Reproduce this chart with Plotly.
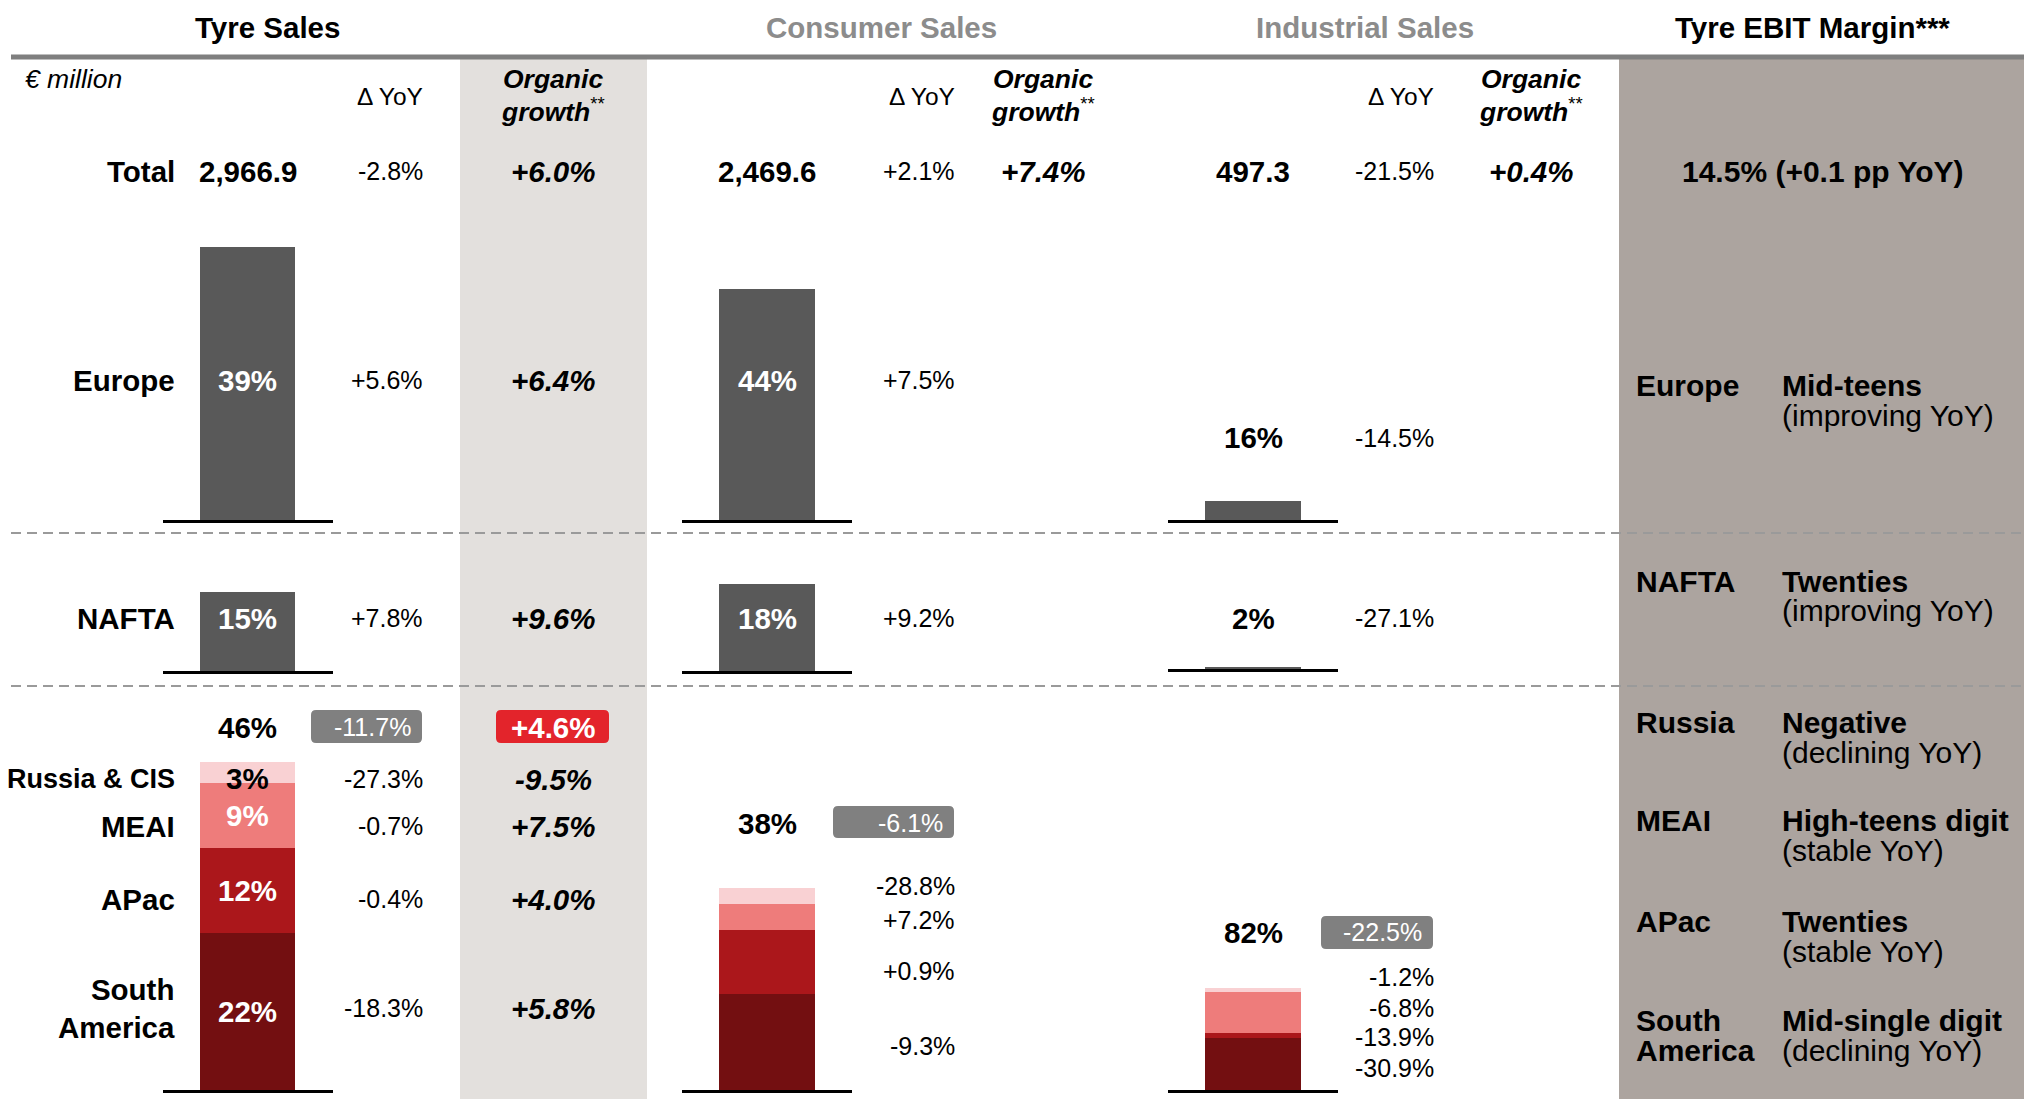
import plotly.graph_objects as go

OFF = 8                      # page body margin of the browser
W, H = 2032 - OFF, 1099 - OFF
FONT = "Arial, 'Liberation Sans', Helvetica, sans-serif"

# ---------------- data ----------------
panels = ["Tyre Sales", "Consumer Sales", "Industrial Sales"]
panel_totals = ["2,966.9", "2,469.6", "497.3"]
panel_total_yoy = ["-2.8%", "+2.1%", "-21.5%"]
panel_total_organic = ["+6.0%", "+7.4%", "+0.4%"]

main_regions = ["Europe", "NAFTA"]
tyre_main_share = [39, 15]
consumer_main_share = [44, 18]
industrial_main_share = [16, 2]
tyre_main_yoy = ["+5.6%", "+7.8%"]
tyre_main_organic = ["+6.4%", "+9.6%"]
consumer_main_yoy = ["+7.5%", "+9.2%"]
industrial_main_yoy = ["-14.5%", "-27.1%"]

rest_regions = ["Russia & CIS", "MEAI", "APac", "South<br>America"]   # top -> bottom
tyre_rest_share = [3, 9, 12, 22]
consumer_rest_share = [3, 5, 12, 18]
industrial_rest_share = [3, 33, 4, 42]
rest_totals = [46, 38, 82]
rest_total_yoy = ["-11.7%", "-6.1%", "-22.5%"]
tyre_rest_total_organic = "+4.6%"
tyre_rest_yoy = ["-27.3%", "-0.7%", "-0.4%", "-18.3%"]
tyre_rest_organic = ["-9.5%", "+7.5%", "+4.0%", "+5.8%"]
consumer_rest_yoy = ["-28.8%", "+7.2%", "+0.9%", "-9.3%"]
industrial_rest_yoy = ["-1.2%", "-6.8%", "-13.9%", "-30.9%"]

ebit_total = "14.5% (+0.1 pp YoY)"
ebit_regions = ["Europe", "NAFTA", "Russia", "MEAI", "APac", "South<br>America"]
ebit_level = ["Mid-teens", "Twenties", "Negative", "High-teens digit", "Twenties", "Mid-single digit"]
ebit_trend = ["(improving YoY)", "(improving YoY)", "(declining YoY)", "(stable YoY)",
              "(stable YoY)", "(declining YoY)"]

# ---------------- styling / layout constants ----------------
BAR_GREY = "#595959"
SEG_COLORS = ["#f9d1d3", "#ee7c7b", "#ab171b", "#730f11"]  # Russia, MEAI, APac, SA
BOX_GREY = "#808080"
BOX_RED = "#e3242b"
ORG_BG = "#e3e0dd"
EBIT_BG = "#aca49f"
HEAD_GREY = "#8c8c8c"
BIG = 29.5
VAL = 25

bar_cx = [247.5, 767, 1253]       # px centres of bars (screen px)
half_w = 85
row_base = [[520, 671, 1090], [520, 671, 1090], [520, 669, 1090]]
row_top = [200, 560, 740]
px_per_pct = [[6.99, 5.27, 7.13], [5.25, 4.83, 5.32], [1.19, 1.25, 1.24]]
yoy_right = [422, 954, 1433]
org_cx = [553, 1043, 1531]
LABEL_RIGHT = 174
PAD = 3


def fx(x):
    return (x - OFF) / W


def fy(y):
    return 1 - (y - OFF) / H


fig = go.Figure()
layout = dict(
    width=W, height=H, margin=dict(l=0, r=0, t=0, b=0),
    paper_bgcolor="white", plot_bgcolor="rgba(0,0,0,0)",
    showlegend=False, barmode="stack", font=dict(family=FONT, color="black"),
)

main_shares = [tyre_main_share, consumer_main_share, industrial_main_share]
rest_shares = [tyre_rest_share, consumer_rest_share, industrial_rest_share]
annotations = []
row_y = [380, 618]


def ann(x, y, text, size=BIG, color="black", xanchor="center", align="center"):
    if xanchor == "right":
        x += PAD
    elif xanchor == "left":
        x -= PAD
    annotations.append(dict(x=fx(x), y=fy(y), xref="paper", yref="paper", text=text,
                            showarrow=False, xanchor=xanchor, yanchor="middle", align=align,
                            font=dict(size=size, color=color)))


for r in range(3):
    for p in range(3):
        n = r * 3 + p + 1
        xs = "x" if n == 1 else f"x{n}"
        ys = "y" if n == 1 else f"y{n}"
        base = row_base[p][r]
        top = row_top[r]
        layout["xaxis" if n == 1 else f"xaxis{n}"] = dict(
            domain=[fx(bar_cx[p] - half_w), fx(bar_cx[p] + half_w)], range=[-0.5, 0.5],
            anchor=ys, showline=True, linecolor="black", linewidth=3, showgrid=False,
            zeroline=False, showticklabels=False, ticks="", fixedrange=True)
        layout["yaxis" if n == 1 else f"yaxis{n}"] = dict(
            domain=[fy(base), fy(top)], range=[0, (base - top) / px_per_pct[p][r]],
            anchor=xs, visible=False, showgrid=False, zeroline=False, fixedrange=True)
        if r < 2:
            v = main_shares[p][r]
            fig.add_trace(go.Bar(x=[0], y=[v], width=0.56, marker=dict(color=BAR_GREY, line=dict(width=0)),
                                 xaxis=xs, yaxis=ys, hoverinfo="skip"))
            if p < 2:
                ann(bar_cx[p], row_y[r], f"<b>{v}%</b>", BIG, "white")
        else:
            vals = rest_shares[p]
            cum = 0
            for k in range(3, -1, -1):
                fig.add_trace(go.Bar(x=[0], y=[vals[k]], width=0.56,
                                     marker=dict(color=SEG_COLORS[k], line=dict(width=0)),
                                     xaxis=xs, yaxis=ys, hoverinfo="skip"))
                if p == 0:
                    annotations.append(dict(x=0, y=cum + vals[k] / 2, xref=xs, yref=ys,
                                            text=f"<b>{vals[k]}%</b>", showarrow=False,
                                            yshift=-6 if k == 0 else 0,
                                            font=dict(size=BIG, color="black" if k == 0 else "white")))
                cum += vals[k]


# headers
ann(267, 27, f"<b>{panels[0]}</b>", BIG)
ann(881, 27, f"<b>{panels[1]}</b>", BIG, HEAD_GREY)
ann(1365, 27, f"<b>{panels[2]}</b>", BIG, HEAD_GREY)
ann(1812, 27, "<b>Tyre EBIT Margin***</b>", BIG)

ann(26, 79, "<i>€ million</i>", 26.5, xanchor="left")
for p in range(3):
    ann(yoy_right[p], 96, "Δ YoY", 24.5, xanchor="right")
    ann(org_cx[p], 79, "<b><i>Organic</i></b>", 26.5)
    ann(org_cx[p], 110, "<b><i>growth</i></b><sup>**</sup>", 26.5)

# total row
ann(LABEL_RIGHT, 171, "<b>Total</b>", BIG, xanchor="right")
for p in range(3):
    ann(bar_cx[p], 171, f"<b>{panel_totals[p]}</b>", BIG)
    ann(yoy_right[p], 171, panel_total_yoy[p], VAL, xanchor="right")
    ann(org_cx[p], 171, f"<b><i>{panel_total_organic[p]}</i></b>", BIG)
ann(1823, 171, f"<b>{ebit_total}</b>", 30)

# Europe / NAFTA rows
for r in range(2):
    ann(LABEL_RIGHT, row_y[r], f"<b>{main_regions[r]}</b>", BIG, xanchor="right")
    ann(yoy_right[0], row_y[r], tyre_main_yoy[r], VAL, xanchor="right")
    ann(org_cx[0], row_y[r], f"<b><i>{tyre_main_organic[r]}</i></b>", BIG)
    ann(yoy_right[1], row_y[r], consumer_main_yoy[r], VAL, xanchor="right")
ind_y = [438, 618]
for r in range(2):
    ann(bar_cx[2], ind_y[r], f"<b>{industrial_main_share[r]}%</b>", BIG)
    ann(yoy_right[2], ind_y[r], industrial_main_yoy[r], VAL, xanchor="right")

# rest row
rest_label_y = [779, 826, 899, 1008]
for k in range(4):
    size = 27 if k == 0 else BIG
    ann(LABEL_RIGHT, rest_label_y[k], f"<b>{rest_regions[k]}</b>", size, xanchor="right", align="right")
    ann(yoy_right[0], rest_label_y[k], tyre_rest_yoy[k], VAL, xanchor="right")
    ann(org_cx[0], rest_label_y[k], f"<b><i>{tyre_rest_organic[k]}</i></b>", BIG)
cons_y = [886, 920, 971, 1046]
ind_rest_y = [977, 1008, 1037, 1068]
for k in range(4):
    ann(yoy_right[1], cons_y[k], consumer_rest_yoy[k], VAL, xanchor="right")
    ann(yoy_right[2], ind_rest_y[k], industrial_rest_yoy[k], VAL, xanchor="right")

total_y = [727, 823, 932]
box_x0 = [311, 833, 1321]
for p in range(3):
    ann(bar_cx[p], total_y[p], f"<b>{rest_totals[p]}%</b>", BIG)
    ann(yoy_right[p] - 12, total_y[p], rest_total_yoy[p], VAL, "white", xanchor="right")
ann(org_cx[0], 727, f"<b>{tyre_rest_total_organic}</b>", BIG, "white")

# EBIT panel
ebit_y = [385, 581, 722, 820, 921, 1020]
for k in range(6):
    for j, line in enumerate(ebit_regions[k].split("<br>")):
        ann(1637, ebit_y[k] + 30 * j, f"<b>{line}</b>", 30, xanchor="left")
    ann(1783, ebit_y[k], f"<b>{ebit_level[k]}</b>", 30, xanchor="left")
    ann(1783, ebit_y[k] + 30, ebit_trend[k], 30, xanchor="left")


# shapes
def rrect(x0, y0, x1, y1, r, color):
    rx, ry = r / W, r / H
    X0, X1, Y0, Y1 = fx(x0), fx(x1), fy(y0), fy(y1)
    path = (f"M {X0+rx},{Y0} L {X1-rx},{Y0} Q {X1},{Y0} {X1},{Y0-ry} L {X1},{Y1+ry} "
            f"Q {X1},{Y1} {X1-rx},{Y1} L {X0+rx},{Y1} Q {X0},{Y1} {X0},{Y1+ry} L {X0},{Y0-ry} "
            f"Q {X0},{Y0} {X0+rx},{Y0} Z")
    return dict(type="path", path=path, xref="paper", yref="paper", fillcolor=color,
                line=dict(width=0), layer="below")


shapes = [
    dict(type="rect", xref="paper", yref="paper", x0=fx(460), x1=fx(647), y0=0, y1=fy(59),
         fillcolor=ORG_BG, line=dict(width=0), layer="below"),
    dict(type="rect", xref="paper", yref="paper", x0=fx(1619), x1=1, y0=0, y1=fy(59),
         fillcolor=EBIT_BG, line=dict(width=0), layer="below"),
    dict(type="line", xref="paper", yref="paper", x0=fx(11), x1=1, y0=fy(57), y1=fy(57),
         line=dict(color="#7f7f7f", width=5)),
]
for yy in [533, 686]:
    shapes.append(dict(type="line", xref="paper", yref="paper", x0=fx(11), x1=1, y0=fy(yy), y1=fy(yy),
                       line=dict(color="#9a9a9a", width=2, dash="10px,6px")))
box_y = [(710, 743), (806, 838), (916, 949)]
for p in range(3):
    shapes.append(rrect(box_x0[p], box_y[p][0], yoy_right[p], box_y[p][1], 5, BOX_GREY))
shapes.append(rrect(496, 710, 609, 743, 5, BOX_RED))

layout["annotations"] = annotations
layout["shapes"] = shapes
fig.update_layout(**layout)
fig.write_html("out.html")
